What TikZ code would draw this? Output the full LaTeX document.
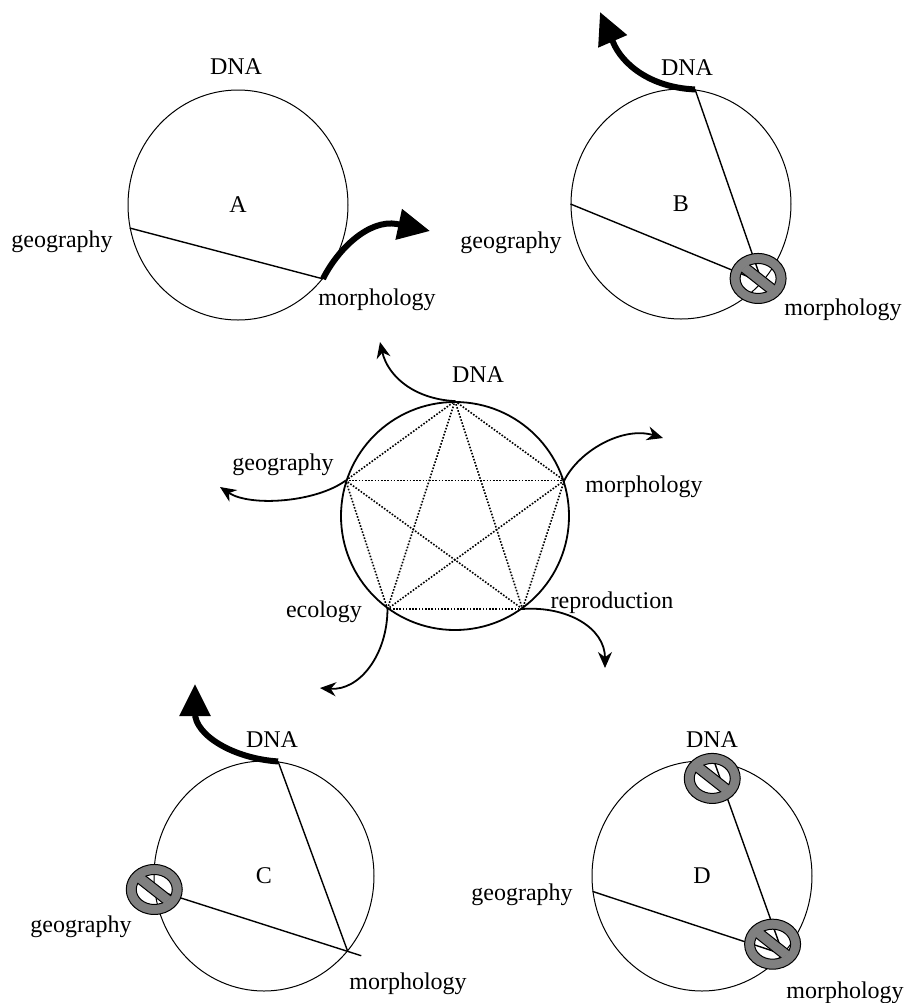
\documentclass[tikz,border=0pt]{standalone}
\usepackage{fontspec}
\setmainfont{Liberation Serif}
\usetikzlibrary{arrows.meta,shapes.geometric,calc}

\definecolor{signgray}{gray}{0.5}

\tikzset{
  trait/.style={draw,ellipse,line width=0.5pt,inner sep=0pt,
    minimum width=110pt,minimum height=115pt},
  chord/.style={line width=0.7pt},
  push/.style={line width=3pt,-{Triangle[length=16pt,width=15pt]}},
  drift/.style={line width=0.9pt,-{Stealth[length=8pt,width=7pt]}},
  nosign/.pic={
    \draw[line width=0.5pt,fill=signgray,even odd rule]
      (0,0) ellipse (28 and 25) (0,0) ellipse (18 and 15);
    \begin{scope}
      \clip (0,0) ellipse (19 and 16);
      \fill[signgray] (-20,-9) -- (-13,-17) -- (20,9) -- (13,17) -- cycle;
    \end{scope}
    \begin{scope}
      \clip (0,0) ellipse (18.5 and 15.5);
      \draw[line width=0.5pt] (-13,-17) -- (20,9) (13,17) -- (-20,-9);
    \end{scope}
  }
}

\begin{document}
\begin{tikzpicture}[x=0.5pt,y=-0.5pt,font=\fontsize{12pt}{14pt}\selectfont]
    \useasboundingbox (0,0) rectangle (906,1003);

    % A: morphology moves
    \node[trait] (cA) at (238,205) {A};
    \node (dnaA) at (236,67) {DNA};
    \node (geoA) at (62,242) {geography};
    \node (morA) at (377,300) {morphology};
    \coordinate (baseA) at (397,224);
    \coordinate (tipA) at (430,231);
    \draw[chord] (cA.192) -- (cA.319);
    \draw[push] (cA.319) .. controls +(15,-30) and +(-28,-5) .. (baseA) -- (tipA);

    % B: DNA moves, morphology stuck
    \node[trait] (cB) at (681,204) {B};
    \node (dnaB) at (687,68) {DNA};
    \node (geoB) at (511,243) {geography};
    \node (morB) at (843,310) {morphology};
    \coordinate (baseB) at (613,42);
    \coordinate (tipB) at (600,12);
    \draw[chord] (cB.180) -- (cB.316);
    \draw[chord] (cB.83) -- (cB.316);
    \draw[push] (cB.83) .. controls +(-45,-2) and +(9,22) .. (baseB) -- (tipB);
    \pic at ($(cB.316)!0.05!(cB.center)$) {nosign};

    % middle: all five characters
    \node[draw,circle,line width=0.9pt,minimum size=114pt,inner sep=0pt] (cM) at (455,516) {};
    \node (dnaM) at (478,375) {DNA};
    \node (geoM) at (283,465) {geography};
    \node (morM) at (644,487) {morphology};
    \node (ecoM) at (324,612) {ecology};
    \node (repM) at (612,603) {reproduction};
    \foreach \s/\t in {90/18,18/306,306/234,234/162,162/90,
                       90/306,306/162,162/18,18/234,234/90}
        \draw[line width=0.8pt,dash pattern=on 0.8pt off 0.8pt] (cM.\s) -- (cM.\t);
    \coordinate (tipDna) at (380,342);
    \coordinate (tipMor) at (663,438);
    \coordinate (tipGeo) at (220,487);
    \coordinate (tipEco) at (320,688);
    \coordinate (tipRep) at (605,668);
    \draw[drift] (cM.90) .. controls +(-40,-2) and +(8,35) .. (tipDna);
    \draw[drift] (cM.18) .. controls +(15,-30) and +(-40,-12) .. (tipMor);
    \draw[drift] (cM.162) .. controls +(-30,22) and +(30,20) .. (tipGeo);
    \draw[drift] (cM.234) .. controls +(0,45) and +(40,3) .. (tipEco);
    \draw[drift] (cM.306) .. controls +(45,-3) and +(0,-40) .. (tipRep);

    % C: DNA moves, geography stuck
    \node[trait] (cC) at (264,876) {C};
    \node (dnaC) at (272,740) {DNA};
    \node (geoC) at (81,927) {geography};
    \node (morC) at (408,984) {morphology};
    \coordinate (baseC) at (195,713);
    \coordinate (tipC) at (195,684);
    \draw[chord] (cC.83) -- (cC.318);
    \draw[chord] (cC.187) -- ($(cC.187)!1.07!(cC.318)$);
    \draw[push] (cC.83) .. controls +(-45,-3) and +(0,22) .. (baseC) -- (tipC);
    \pic at (cC.187) {nosign};

    % D: nothing moves
    \node[trait] (cD) at (702,876) {D};
    \node (dnaD) at (712,740) {DNA};
    \node (geoD) at (522,895) {geography};
    \node (morD) at (845,993) {morphology};
    \draw[chord] (cD.84) -- (cD.316);
    \draw[chord] (cD.188) -- (cD.316);
    \pic at ($(cD.84)!0.15!(cD.center)$) {nosign};
    \pic at ($(cD.316)!0.13!(cD.center)$) {nosign};
\end{tikzpicture}
\end{document}
